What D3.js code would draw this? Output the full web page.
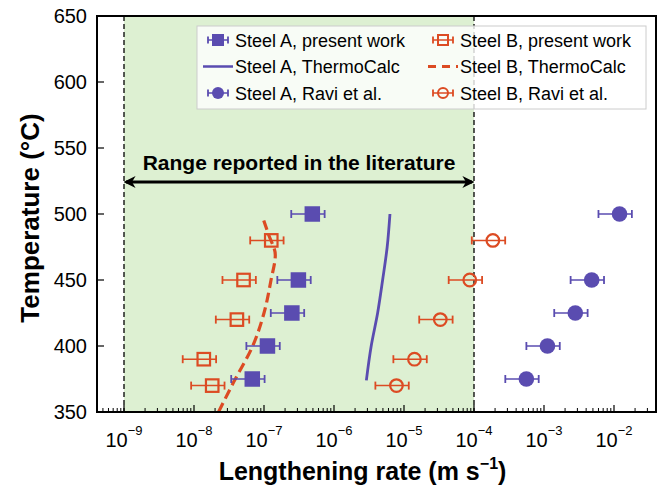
<!DOCTYPE html>
<html>
<head>
<meta charset="utf-8">
<script src="https://cdn.jsdelivr.net/npm/d3@7"></script>
<style>
  body { margin: 0; background: #fff; }
  text { font-family: "Liberation Sans", Arial, sans-serif; }
</style>
</head>
<body>
<svg id="chart" width="664" height="492"></svg>
<script>
// temperatures (°C) and lengthening rates (m/s)
const tempA = [500, 450, 425, 400, 375]
const rateA_present = [4.9e-7, 3.1e-7, 2.5e-7, 1.12e-7, 6.8e-8]
const rateA_ravi = [1.2e-2, 4.8e-3, 2.8e-3, 1.12e-3, 5.6e-4]

const tempB = [480, 450, 420, 390, 370]
const rateB_present = [1.27e-7, 5.1e-8, 4.1e-8, 1.38e-8, 1.82e-8]
const rateB_ravi = [1.86e-4, 8.7e-5, 3.3e-5, 1.41e-5, 7.8e-6]

// relative error on each point (same for every series)
const relErr = [0.5, 0.5, 0.5, 0.5, 0.5]

// ThermoCalc curves
const tcA_temp = [374, 400, 425, 450, 475, 500]
const tcA_rate = [2.9e-6, 3.4e-6, 4.2e-6, 4.95e-6, 5.75e-6, 6.3e-6]
const tcB_temp = [350, 374, 400, 425, 450, 469, 485, 496]
const tcB_rate = [2.24e-8, 3.8e-8, 6.9e-8, 1.0e-7, 1.26e-7, 1.45e-7, 1.15e-7, 9.8e-8]

const litRange = [1e-9, 1e-4]
const yTicks = [350, 400, 450, 500, 550, 600, 650]
const xTicks = [-9, -8, -7, -6, -5, -4, -3, -2]

const purple = '#5a4cb0', orange = '#dc4b23'

const svg = d3.select('#chart')
const margin = { top: 16, right: 8, bottom: 80, left: 97 }
const width = 664 - margin.left - margin.right,
      height = 492 - margin.top - margin.bottom

const g = svg.append('g').attr('transform', `translate(${margin.left},${margin.top})`)

const x = d3.scaleLog().domain([Math.pow(10, -9 - 27 / 70), Math.pow(10, -9 + 532 / 70)]).range([0, width])
const y = d3.scaleLinear().domain([350, 650]).range([height, 0])

// literature range shading
g.append('rect')
  .attr('x', x(litRange[0])).attr('y', 0)
  .attr('width', x(litRange[1]) - x(litRange[0])).attr('height', height)
  .attr('fill', '#ddf0d2')

// minor + major ticks on bottom (inside)
const minor = []
for (let e = -10; e <= -1; e++) for (let m = 2; m <= 9; m++) {
  const v = m * Math.pow(10, e)
  if (x(v) > 0 && x(v) < width) minor.push(v)
}
g.selectAll('.minor').data(minor).enter().append('line')
  .attr('x1', d => x(d)).attr('x2', d => x(d))
  .attr('y1', height).attr('y2', height - 4)
  .attr('stroke', '#000').attr('stroke-width', 1)
g.selectAll('.major').data(xTicks).enter().append('line')
  .attr('x1', d => x(Math.pow(10, d))).attr('x2', d => x(Math.pow(10, d)))
  .attr('y1', height).attr('y2', height - 7)
  .attr('stroke', '#000').attr('stroke-width', 1.2)

// x tick labels
const xl = g.selectAll('.xl').data(xTicks).enter().append('text')
  .attr('x', d => x(Math.pow(10, d)))
  .attr('y', height + 35)
  .attr('text-anchor', 'middle')
  .attr('font-size', 20)
xl.append('tspan').text('10')
xl.append('tspan').attr('dy', -12).attr('font-size', 13).text(d => '\u2212' + Math.abs(d))

// y ticks inside left
g.selectAll('.yt').data(yTicks).enter().append('line')
  .attr('x1', 0).attr('x2', 7)
  .attr('y1', d => y(d)).attr('y2', d => y(d))
  .attr('stroke', '#000').attr('stroke-width', 1.2)
g.selectAll('.yl').data(yTicks).enter().append('text')
  .attr('x', -10).attr('y', d => y(d) + 7)
  .attr('text-anchor', 'end').attr('font-size', 20)
  .text(d => d)

// literature range dashed bounds
g.selectAll('.lit').data(litRange).enter().append('line')
  .attr('x1', d => x(d)).attr('x2', d => x(d))
  .attr('y1', 0).attr('y2', height)
  .attr('stroke', '#000').attr('stroke-width', 1.3)
  .attr('stroke-dasharray', '5,3')

// double arrow across the literature range
const defs = svg.append('defs')
defs.append('marker').attr('id', 'ah').attr('viewBox', '0 0 10 10')
  .attr('refX', 8).attr('refY', 5).attr('markerWidth', 12).attr('markerHeight', 12)
  .attr('markerUnits', 'userSpaceOnUse')
  .attr('orient', 'auto-start-reverse')
  .append('path').attr('d', 'M0,0 L10,5 L0,10 L3,5 z').attr('fill', '#000')
g.append('line')
  .attr('x1', x(litRange[0]) + 2).attr('x2', x(litRange[1]) - 2)
  .attr('y1', 166).attr('y2', 166)
  .attr('stroke', '#000').attr('stroke-width', 3.2)
  .attr('marker-start', 'url(#ah)').attr('marker-end', 'url(#ah)')
g.append('text')
  .attr('x', (x(litRange[0]) + x(litRange[1])) / 2).attr('y', 154)
  .attr('text-anchor', 'middle').attr('font-size', 21).attr('font-weight', 'bold')
  .text('Range reported in the literature')

// ThermoCalc lines
const line = d3.line().curve(d3.curveMonotoneY)
g.append('path')
  .attr('d', line(tcA_temp.map((t, i) => [x(tcA_rate[i]), y(t)])))
  .attr('fill', 'none').attr('stroke', purple).attr('stroke-width', 2.8)
g.append('path')
  .attr('d', line(tcB_temp.map((t, i) => [x(tcB_rate[i]), y(t)])))
  .attr('fill', 'none').attr('stroke', orange).attr('stroke-width', 3.2)
  .attr('stroke-dasharray', '10,5')

// error bars + markers
function errorBars(temps, rates, color) {
  temps.forEach((t, i) => {
    const lo = x(rates[i] * (1 - relErr[i])), hi = x(rates[i] * (1 + relErr[i])), yy = y(t)
    g.append('line').attr('x1', lo).attr('x2', hi).attr('y1', yy).attr('y2', yy)
      .attr('stroke', color).attr('stroke-width', 1.5)
    ;[lo, hi].forEach(xx => g.append('line').attr('x1', xx).attr('x2', xx)
      .attr('y1', yy - 4).attr('y2', yy + 4).attr('stroke', color).attr('stroke-width', 1.8))
  })
}
function squares(temps, rates, color, filled) {
  const s = filled ? 15.5 : 12.5
  g.selectAll(null).data(temps).enter().append('rect')
    .attr('x', (d, i) => x(rates[i]) - s / 2).attr('y', d => y(d) - s / 2)
    .attr('width', s).attr('height', s)
    .attr('fill', filled ? color : 'none')
    .attr('stroke', color).attr('stroke-width', filled ? 0 : 2.2)
}
function circles(temps, rates, color, filled) {
  g.selectAll(null).data(temps).enter().append('circle')
    .attr('cx', (d, i) => x(rates[i])).attr('cy', d => y(d))
    .attr('r', filled ? 7.8 : 6.3)
    .attr('fill', filled ? color : 'none')
    .attr('stroke', color).attr('stroke-width', filled ? 0 : 2.2)
}
errorBars(tempB, rateB_present, orange)
squares(tempB, rateB_present, orange, false)
errorBars(tempA, rateA_present, purple)
squares(tempA, rateA_present, purple, true)
errorBars(tempB, rateB_ravi, orange)
circles(tempB, rateB_ravi, orange, false)
errorBars(tempA, rateA_ravi, purple)
circles(tempA, rateA_ravi, purple, true)

// legend
const lg = svg.append('g').attr('transform', 'translate(197,26)')
lg.append('rect').attr('width', 449).attr('height', 83)
  .attr('fill', '#fff').attr('fill-opacity', 0.8)
  .attr('stroke', '#ccc').attr('stroke-width', 1)
const legendItems = [
  { col: 0, row: 0, label: 'Steel A, present work', color: purple, kind: 'sq', filled: true },
  { col: 1, row: 0, label: 'Steel B, present work', color: orange, kind: 'sq', filled: false },
  { col: 0, row: 1, label: 'Steel A, ThermoCalc', color: purple, kind: 'line' },
  { col: 1, row: 1, label: 'Steel B, ThermoCalc', color: orange, kind: 'dash' },
  { col: 0, row: 2, label: 'Steel A, Ravi et al.', color: purple, kind: 'ci', filled: true },
  { col: 1, row: 2, label: 'Steel B, Ravi et al.', color: orange, kind: 'ci', filled: false }
]
legendItems.forEach(d => {
  const cx = d.col === 0 ? 21 : 246, cy = 14 + d.row * 26.5
  const it = lg.append('g').attr('transform', `translate(${cx},${cy})`)
  if (d.kind === 'line' || d.kind === 'dash') {
    it.append('line').attr('x1', -15).attr('x2', 15).attr('y1', 0).attr('y2', 0)
      .attr('stroke', d.color).attr('stroke-width', d.kind === 'line' ? 2.5 : 3)
      .attr('stroke-dasharray', d.kind === 'dash' ? '8,6' : null)
  } else {
    it.append('line').attr('x1', -10).attr('x2', 10).attr('y1', 0).attr('y2', 0)
      .attr('stroke', d.color).attr('stroke-width', 1.5)
    ;[-10, 10].forEach(xx => it.append('line').attr('x1', xx).attr('x2', xx)
      .attr('y1', -3.5).attr('y2', 3.5).attr('stroke', d.color).attr('stroke-width', 1.8))
    if (d.kind === 'sq') {
      const s = d.filled ? 12 : 10
      it.append('rect').attr('x', -s / 2).attr('y', -s / 2).attr('width', s).attr('height', s)
        .attr('fill', d.filled ? d.color : 'none').attr('stroke', d.color)
        .attr('stroke-width', d.filled ? 0 : 2)
    } else {
      it.append('circle').attr('r', d.filled ? 6 : 5)
        .attr('fill', d.filled ? d.color : 'none').attr('stroke', d.color)
        .attr('stroke-width', d.filled ? 0 : 2)
    }
  }
  lg.append('text').attr('x', cx + 17).attr('y', cy + 6.5)
    .attr('font-size', 18).text(d.label)
})

// frame
g.append('rect').attr('width', width).attr('height', height)
  .attr('fill', 'none').attr('stroke', '#000').attr('stroke-width', 2)

// axis titles
svg.append('text')
  .attr('transform', `translate(39,${margin.top + height / 2 + 4}) rotate(-90)`)
  .attr('text-anchor', 'middle').attr('font-size', 26).attr('font-weight', 'bold')
  .text('Temperature (°C)')
const xt = svg.append('text')
  .attr('x', margin.left + width / 2 - 14).attr('y', 480)
  .attr('text-anchor', 'middle').attr('font-size', 25).attr('font-weight', 'bold')
xt.append('tspan').text('Lengthening rate (m s')
xt.append('tspan').attr('dy', -11).attr('font-size', 16).text('\u22121')
xt.append('tspan').attr('dy', 11).text(')')
</script>
</body>
</html>
